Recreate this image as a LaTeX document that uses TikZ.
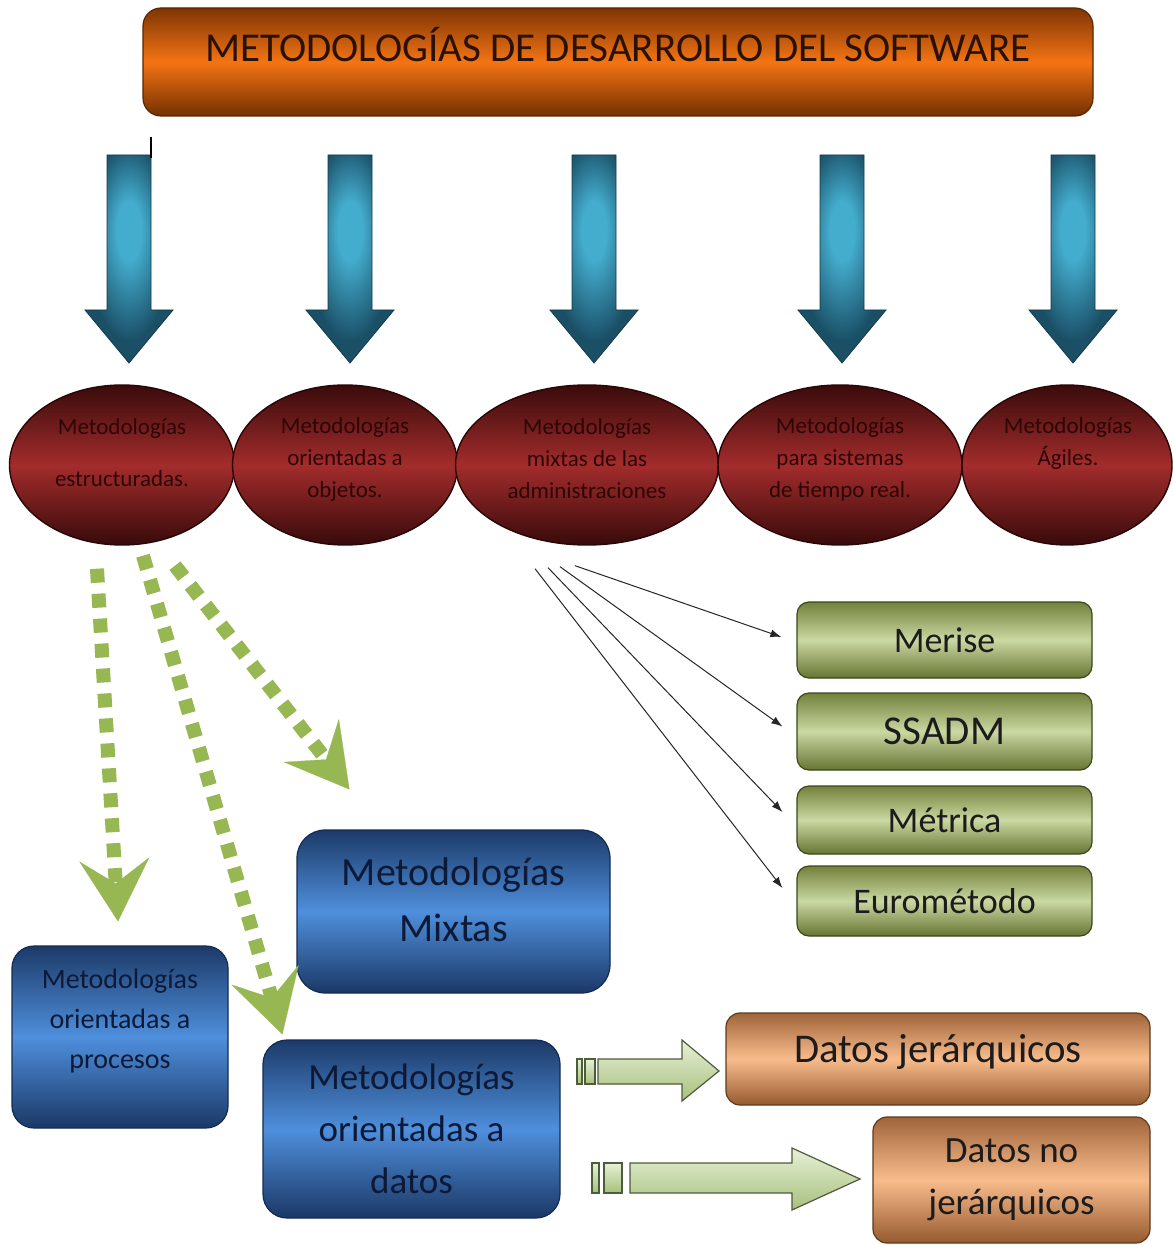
\documentclass[tikz,border=0pt]{standalone}
\usepackage{fontspec}
\setmainfont{Carlito}
\usetikzlibrary{arrows.meta,calc,shapes.geometric}
\definecolor{titletop}{HTML}{7E3504}
\definecolor{titlemid}{HTML}{F47414}
\definecolor{titlebot}{HTML}{733000}
\definecolor{titleedge}{HTML}{5A2600}
\definecolor{titletext}{HTML}{2A1200}
\definecolor{arredge}{HTML}{1A4F66}
\definecolor{arrmid}{HTML}{44ADCE}
\definecolor{elltop}{HTML}{3A0B0B}
\definecolor{ellmid}{HTML}{A32C2C}
\definecolor{ellbot}{HTML}{380A0A}
\definecolor{elledge}{HTML}{2A0606}
\definecolor{elltext}{HTML}{2E0505}
\definecolor{gdashc}{HTML}{96B752}
\definecolor{bluetop}{HTML}{1C3A68}
\definecolor{bluemid}{HTML}{4F8FDC}
\definecolor{bluebot}{HTML}{1B3866}
\definecolor{blueedge}{HTML}{142C54}
\definecolor{bluetext}{HTML}{0C1A38}
\definecolor{olivetop}{HTML}{72813A}
\definecolor{olivemid}{HTML}{CAD8A2}
\definecolor{olivebot}{HTML}{667433}
\definecolor{oliveedge}{HTML}{3C481C}
\definecolor{peachtop}{HTML}{A0643A}
\definecolor{peachmid}{HTML}{F8BC8C}
\definecolor{peachbot}{HTML}{965A30}
\definecolor{peachedge}{HTML}{5E3A1E}
\definecolor{darktext}{HTML}{1C1C1C}
\definecolor{lgtop}{HTML}{E8F0D8}
\definecolor{lgbot}{HTML}{A6C07C}
\definecolor{lgedge}{HTML}{4D5C3A}
\pgfdeclareradialshading{arrowglow}{\pgfpoint{0bp}{8bp}}{%
  color(0bp)=(arrmid); color(7bp)=(arrmid); color(24bp)=(arredge); color(50bp)=(arredge)}
\begin{document}
\begin{tikzpicture}[x=0.5pt,y=-0.5pt,
  titlebox/.style={rectangle, rounded corners=9pt, draw=titleedge, line width=0.6pt,
    top color=titletop, bottom color=titlebot, middle color=titlemid,
    minimum width=475pt, minimum height=54pt, inner sep=0pt,
    text=titletext, font=\fontsize{20.5pt}{24pt}\selectfont,
    text height=14pt, text depth=14pt},
  ell/.style={ellipse, draw=elledge, line width=0.7pt,
    top color=elltop, bottom color=ellbot, middle color=ellmid,
    minimum height=80pt, inner sep=0pt},
  elltxt/.style={align=center, text=elltext, inner sep=0pt,
    font=\fontsize{11.5pt}{16pt}\selectfont},
  bluebox/.style={rectangle, draw=blueedge, line width=0.6pt,
    top color=bluetop, bottom color=bluebot, middle color=bluemid,
    inner sep=0pt, align=center, text=bluetext},
  bluetxt/.style={align=center, text=bluetext, inner sep=0pt},
  olivebox/.style={rectangle, rounded corners=6pt, draw=oliveedge, line width=0.6pt,
    top color=olivetop, bottom color=olivebot, middle color=olivemid,
    minimum width=147.5pt, inner sep=0pt, text=darktext,
    font=\fontsize{18pt}{22pt}\selectfont},
  peachbox/.style={rectangle, rounded corners=7pt, draw=peachedge, line width=0.6pt,
    top color=peachtop, bottom color=peachbot, middle color=peachmid,
    inner sep=0pt, align=center, text=darktext},
  gdash/.style={draw=gdashc, line width=7pt, dash pattern=on 7pt off 5.5pt,
    -{Stealth[length=31pt,width=35pt,inset=12pt,line width=0.1pt,fill=gdashc]}},
  thinarrow/.style={draw=black!85, line width=0.5pt, -{Latex[length=5.5pt,width=4pt]}},
  blockarrow/.style={draw=lgedge, line width=0.6pt, top color=lgtop, bottom color=lgbot}
]
\fill[white] (0,0) rectangle (1172,1245);
\useasboundingbox (0,0) rectangle (1172,1245);

% title
\node[titlebox] (title) at (618,62) {METODOLOGÍAS DE DESARROLLO DEL SOFTWARE};

% blue block arrows
\foreach \cx in {129,350,594,842,1073}{
  \shade[shading=arrowglow]
    ({\cx-22},155) -- ({\cx+22},155) -- ({\cx+22},310) -- ({\cx+44},310)
    -- (\cx,363) -- ({\cx-44},310) -- ({\cx-22},310) -- cycle;
  \draw[arredge!75!black, line width=0.4pt]
    ({\cx-22},155) -- ({\cx+22},155) -- ({\cx+22},310) -- ({\cx+44},310)
    -- (\cx,363) -- ({\cx-44},310) -- ({\cx-22},310) -- cycle;
}
\draw[black, line width=1pt] (151,137) -- (151,158);

% ellipses
\node[ell, minimum width=112.5pt] (e1) at (122,465) {};
\node[ell, minimum width=112.5pt] (e2) at (345,465) {};
\node[ell, minimum width=131.5pt] (e3) at (587,465) {};
\node[ell, minimum width=122pt]   (e4) at (840,465) {};
\node[ell, minimum width=105pt]   (e5) at (1067,465) {};
\node[elltxt] (e1t) at (122,453) {Metodologías\\[10pt]estructuradas.};
\node[elltxt] (e2t) at (345,459) {Metodologías\\orientadas a\\objetos.};
\node[elltxt] (e3t) at (587,459) {Metodologías\\mixtas de las\\administraciones};
\node[elltxt] (e4t) at (840,459) {Metodologías\\para sistemas\\de tiempo real.};
\node[elltxt] (e5t) at (1068,443) {Metodologías\\Ágiles.};

% olive boxes
\node[olivebox, minimum height=38pt] (merise) at (944.5,640) {Merise};
\node[olivebox, minimum height=38.5pt, font=\fontsize{20.5pt}{24pt}\selectfont] (ssadm) at (944.5,731.5) {SSADM};
\node[olivebox, minimum height=34pt] (metrica) at (944.5,820) {Métrica};
\node[olivebox, minimum height=35pt] (euro) at (944.5,901) {Eurométodo};

% thin arrows
\coordinate (s1) at ($(e3.south)+(-12,20)$);
\coordinate (s2) at ($(e3.south)+(-27,21)$);
\coordinate (s3) at ($(e3.south)+(-39,22)$);
\coordinate (s4) at ($(e3.south)+(-52,23)$);
\draw[thinarrow] (s1) -- ($(merise.west)+(-15,-3)$);
\draw[thinarrow] (s2) -- ($(ssadm.west)+(-14,-5)$);
\draw[thinarrow] (s3) -- ($(metrica.west)+(-14,-8)$);
\draw[thinarrow] (s4) -- ($(euro.west)+(-14,-13)$);

% blue boxes
\node[bluebox, rounded corners=14pt, minimum width=156.5pt, minimum height=81.5pt] (mixtas) at (453.5,911.5) {};
\node[bluetxt, font=\fontsize{20pt}{28pt}\selectfont] (mixtast) at (453.5,900) {Metodologías\\Mixtas};
\node[bluebox, rounded corners=11pt, minimum width=108pt, minimum height=91pt] (proc) at (120,1037) {};
\node[bluetxt, font=\fontsize{14pt}{20pt}\selectfont] (proct) at (120,1021) {Metodologías\\orientadas a\\procesos};
\node[bluebox, rounded corners=12pt, minimum width=148.5pt, minimum height=89pt,
  font=\fontsize{18.5pt}{26pt}\selectfont] (datos) at (411.5,1129) {Metodologías\\orientadas a\\datos};

% peach boxes
\node[peachbox, minimum width=212pt, minimum height=46pt] (pj1) at (938,1059) {};
\node[bluetxt, text=darktext, font=\fontsize{20.4pt}{24pt}\selectfont] (pj1t) at (938,1052) {Datos jerárquicos};
\node[peachbox, minimum width=138.5pt, minimum height=63pt,
  font=\fontsize{18.5pt}{26pt}\selectfont] (pj2) at (1011.5,1180) {Datos no\\jerárquicos};

% light green block arrows
\draw[blockarrow] (577,1059) rectangle (582,1084);
\draw[blockarrow] (585,1059) rectangle (595,1084);
\draw[blockarrow] (598,1059) -- (682,1059) -- (682,1040) -- (719,1071)
  -- (682,1101) -- (682,1084) -- (598,1084) -- cycle;
\draw[blockarrow] (592,1163) rectangle (599,1193);
\draw[blockarrow] (604,1163) rectangle (622,1193);
\draw[blockarrow] (630,1163) -- (792,1163) -- (792,1148) -- (860,1179)
  -- (792,1210) -- (792,1193) -- (630,1193) -- cycle;

% green dashed arrows
\coordinate (gA) at ($(e1.south)+(-25,23)$);
\coordinate (gB) at ($(e1.south)+(21,10)$);
\coordinate (gC) at ($(e1.south)+(53,20)$);
\coordinate (tA) at ($(proc.north)+(-2,-24)$);
\coordinate (tB) at ($(datos.north west)+(20,-5)$);
\coordinate (tC) at ($(mixtas.north west)+(53,-40)$);
\draw[gdash] (gA) -- (tA);
\draw[gdash] (gB) -- (tB);
\draw[gdash] (gC) -- (tC);
\end{tikzpicture}
\end{document}
